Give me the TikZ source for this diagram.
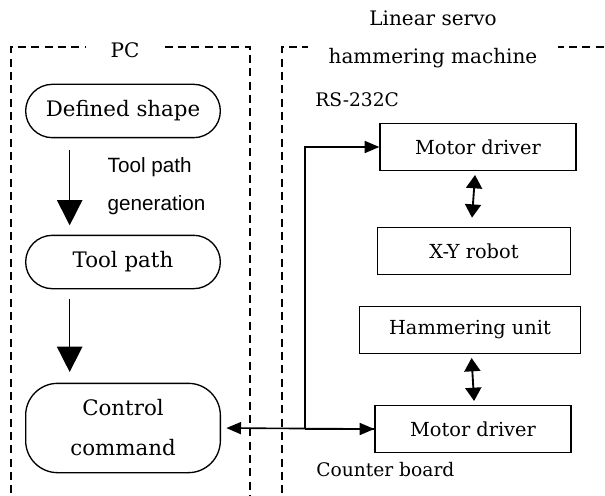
\documentclass[tikz,border=0pt]{standalone}
\usepackage{fontspec}
\setmainfont{DejaVu Serif}
\newfontfamily\labelsans{Liberation Sans}
\usetikzlibrary{arrows.meta, positioning}

\begin{document}
\begin{tikzpicture}[x=0.75pt, y=-0.75pt,
      term/.style={draw, line width=1pt, rounded corners=20pt, align=center,
        minimum width=146pt, minimum height=40pt, font=\fontsize{16}{30}\selectfont},
      box/.style={draw, line width=1pt, minimum width=147pt, minimum height=35pt,
        font=\fontsize{14.5}{17}\selectfont},
      note/.style={anchor=west, inner sep=0pt, font=\fontsize{14}{16}\selectfont},
      group/.style={draw, line width=0.8pt, dash pattern=on 6pt off 4pt},
      title/.style={fill=white, inner sep=3pt, font=\fontsize{15}{18}\selectfont},
      bigarr/.style={-{Triangle[length=19pt,width=19pt]}, line width=1.2pt},
      arr/.style={-{Triangle[length=11pt,width=9pt]}, line width=1.2pt},
      dbl/.style={{Triangle[length=10pt,width=12pt]}-{Triangle[length=10pt,width=12pt]}, line width=1.4pt}
    ]
    \useasboundingbox (0,0) rectangle (605,495);

    % dashed groups
    \begin{scope}
      \clip (0,0) rectangle (605,495);
      \draw[group] (11,520) -- (11,47) -- (250,47) -- (250,520);
      \draw[group] (282,520) -- (282,47) -- (640,47);
    \end{scope}
    \node[title, minimum width=58pt] (pc) at (125,50) {PC};
    \node[font=\fontsize{15}{18}\selectfont] (machine1) at (433,18) {Linear servo};
    \node[title, minimum width=188pt] (machine2) at (433,58) {hammering machine};

    % PC side
    \node[term] (shape) at (123,111) {Defined shape};
    \node[term] (path) at (123,262) {Tool path};
    \node[term, rounded corners=24pt, minimum height=67pt] (command) at (123,428) {Control\\command};
    \node[anchor=west, align=left, font=\labelsans\fontsize{15.5}{28}\selectfont] (gen) at (103,186) {Tool path\\generation};

    % machine side
    \node[box] (driver1) at (478,147) {Motor driver};
    \node[box, minimum width=145pt] (robot) at (474,251) {X-Y robot};
    \node[box, minimum width=166pt] (hammer) at (470,330) {Hammering unit};
    \node[box] (driver2) at (473,429) {Motor driver};
    \node[note] (rs) at (315,100) {RS-232C};
    \node[note] (counter) at (316,470) {Counter board};
    \coordinate (bus) at (305,429);

    \draw[bigarr, shorten <=9pt, shorten >=7pt] ([xshift=-40pt]shape.south) -- ([xshift=-40pt]path.north);
    \draw[bigarr, shorten <=7pt, shorten >=8pt] ([xshift=-40pt]path.south) -- ([xshift=-40pt]command.north);
    \draw[dbl, shorten <=3pt, shorten >=7pt] ([xshift=-2pt]driver1.south) -- ([xshift=-2pt]robot.north);
    \draw[dbl, shorten <=3pt, shorten >=3pt] ([xshift=1pt]hammer.south) -- ([xshift=1pt]driver2.north);
    \draw[arr, shorten >=4pt] (driver2.west) -- (command.east);
    \draw[arr] (bus) -- (driver2.west);
    \draw[arr] (bus) |- (driver1.west);
  \end{tikzpicture}
\end{document}
